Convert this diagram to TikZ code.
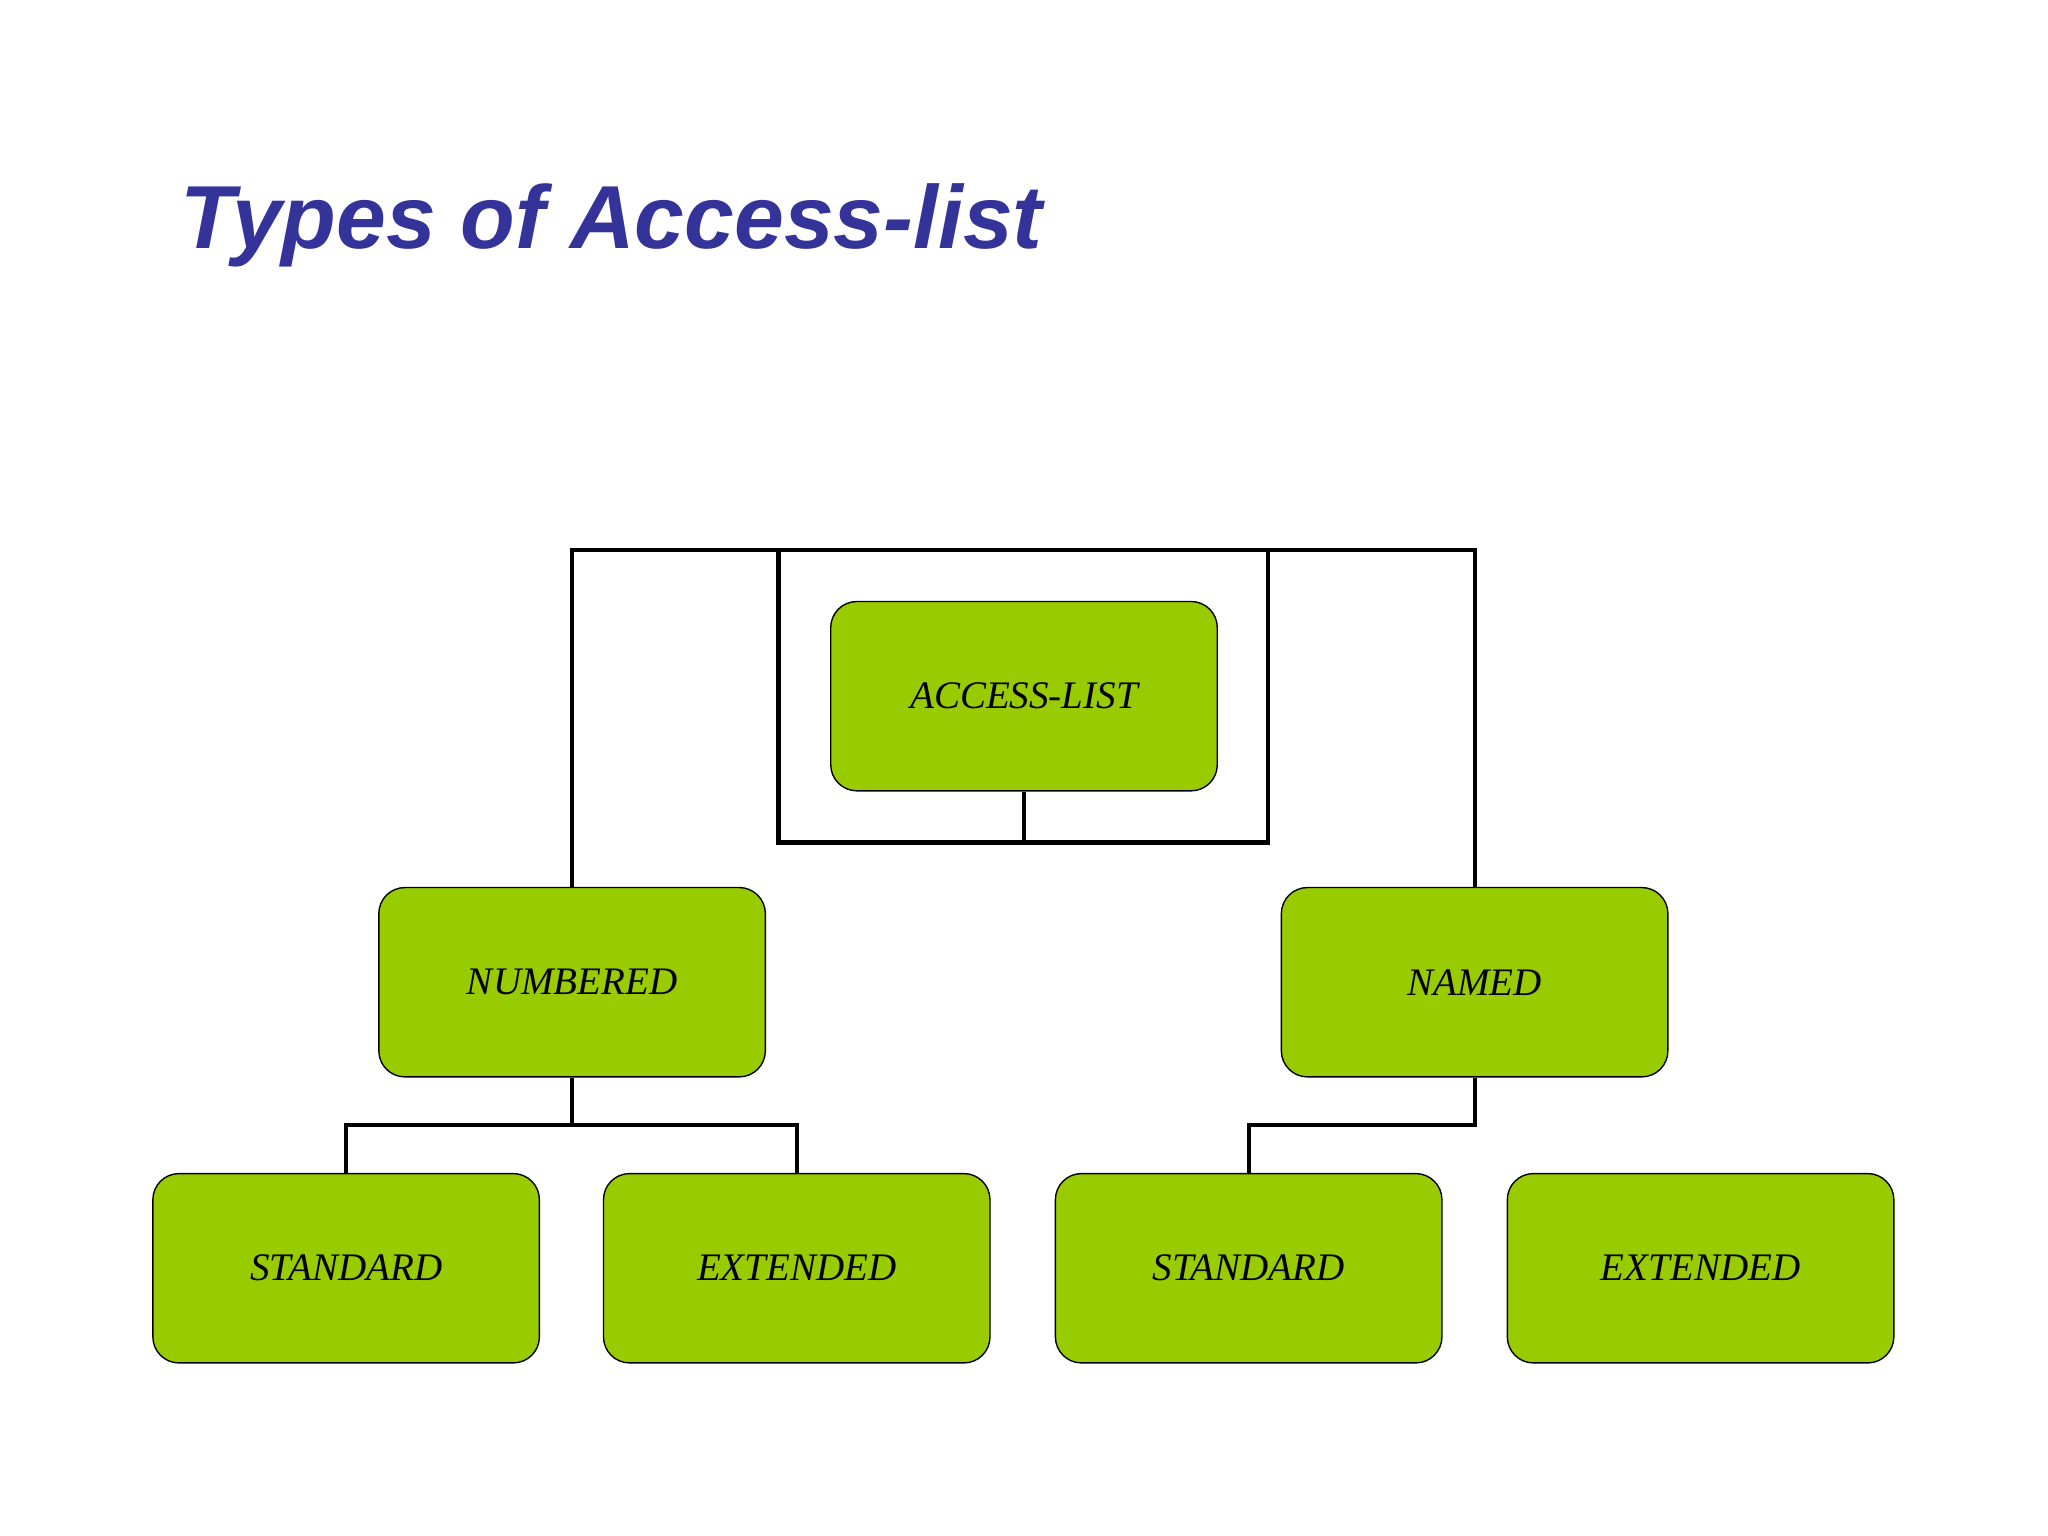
\documentclass[tikz,border=0pt]{standalone}
\usepackage{fontspec}
\setmainfont{Liberation Serif}
\newfontfamily\titlefont{Liberation Sans}
\definecolor{boxgreen}{RGB}{153,204,0}
\definecolor{titleblue}{RGB}{51,51,153}
\begin{document}
\begin{tikzpicture}[x=0.02cm,y=-0.02cm,
  box/.style={draw=black,line width=0.6pt,fill=boxgreen,rounded corners=0.4cm,minimum width=5.92cm,minimum height=2.9cm,inner sep=0pt,font=\fontsize{17}{20}\selectfont\itshape},
  conn/.style={draw=black,line width=1.8pt}]
\fill[white] (0,0) rectangle (1568,1176);
\useasboundingbox (0,0) rectangle (1568,1176);
\node[anchor=base west,text=titleblue,font=\titlefont\fontsize{39}{44}\selectfont\bfseries\itshape,inner sep=0pt] (title) at (138,190) {Types of Access-list};
\coordinate (top) at (784,421);
\coordinate (ia) at (596,421);
\coordinate (ib) at (971,645);
\coordinate (imid) at (784,645);
\coordinate (lj) at (438,861);
\coordinate (rj) at (1129,861);
\draw[conn] (ia) rectangle (ib);
\node[box] (al) at (784,533) {ACCESS-LIST};
\node[box] (num) at (438,752) {NUMBERED};
\node[box] (nam) at (1129,752) {NAMED};
\node[box] (s1) at (265,971) {STANDARD};
\node[box] (e1) at (610,971) {EXTENDED};
\node[box] (s2) at (956,971) {STANDARD};
\node[box] (e2) at (1302,971) {EXTENDED};
\draw[conn] (num.north) |- (top) -| (nam.north);
\draw[conn] (al.south) -- (imid);
\draw[conn] (num.south) -- (lj);
\draw[conn] (s1.north) |- (lj) -| (e1.north);
\draw[conn] (nam.south) -- (rj) -| (s2.north);
\end{tikzpicture}
\end{document}
